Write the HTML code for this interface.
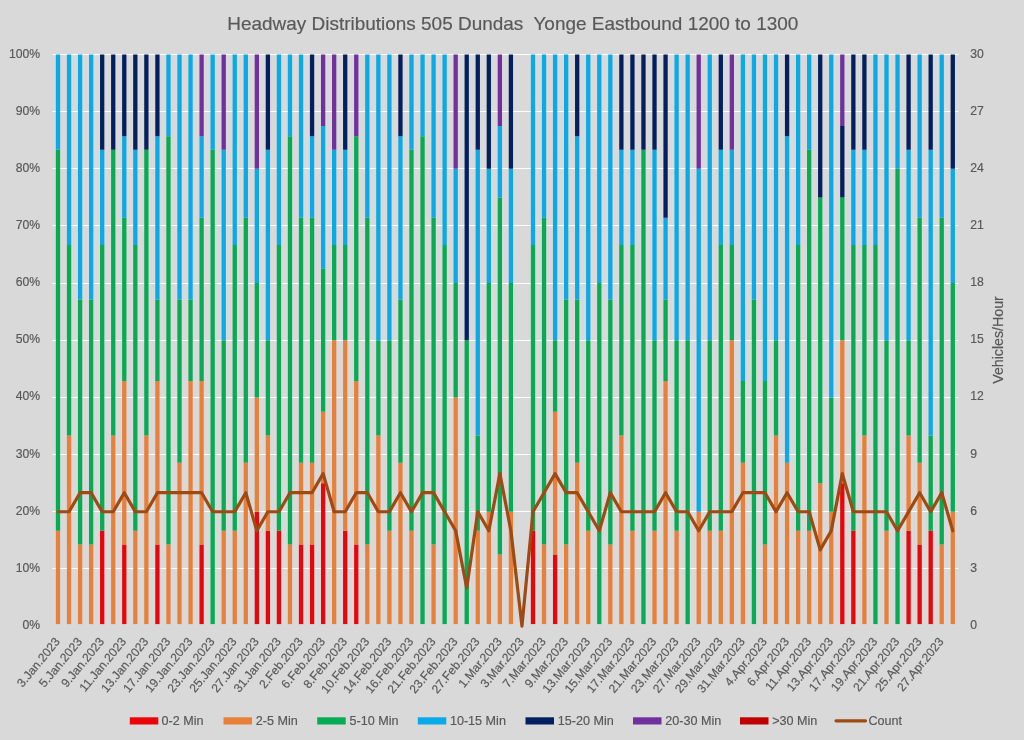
<!DOCTYPE html><html><head><meta charset="utf-8"><style>html,body{margin:0;padding:0;background:#D9D9D9;}svg{display:block}text{font-family:"Liberation Sans",sans-serif;fill:#595959;stroke:#595959;stroke-width:0.18}svg{will-change:transform}</style></head><body>
<svg width="1024" height="740" viewBox="0 0 1024 740">
<rect width="1024" height="740" fill="#D9D9D9"/>
<path d="M52.48 568.5H958.3M52.48 511.5H958.3M52.48 454.5H958.3M52.48 397.5H958.3M52.48 340.5H958.3M52.48 283.5H958.3M52.48 225.5H958.3M52.48 168.5H958.3M52.48 111.5H958.3M52.48 54.5H958.3" stroke="#FFFFFF" stroke-width="1" fill="none"/>
<path d="M100.04 626.05h4.3V530.79h-4.3zM122.13 626.05h4.3V544.4h-4.3zM155.27 626.05h4.3V544.4h-4.3zM199.46 626.05h4.3V544.4h-4.3zM254.69 626.05h4.3V511.74h-4.3zM265.74 626.05h4.3V530.79h-4.3zM276.78 626.05h4.3V530.79h-4.3zM298.88 626.05h4.3V544.4h-4.3zM309.92 626.05h4.3V544.4h-4.3zM320.97 626.05h4.3V483.16h-4.3zM343.06 626.05h4.3V530.79h-4.3zM354.11 626.05h4.3V544.4h-4.3zM530.86 626.05h4.3V530.79h-4.3zM552.95 626.05h4.3V554.61h-4.3zM840.16 626.05h4.3V483.16h-4.3zM851.21 626.05h4.3V530.79h-4.3zM906.44 626.05h4.3V530.79h-4.3zM917.49 626.05h4.3V544.4h-4.3zM928.53 626.05h4.3V530.79h-4.3z" fill="#EA0508"/>
<path d="M55.85 626.05h4.3V530.79h-4.3zM66.9 626.05h4.3V435.53h-4.3zM77.95 626.05h4.3V544.4h-4.3zM88.99 626.05h4.3V544.4h-4.3zM111.09 626.05h4.3V435.53h-4.3zM122.13 544.4h4.3V381.1h-4.3zM133.18 626.05h4.3V530.79h-4.3zM144.23 626.05h4.3V435.53h-4.3zM155.27 544.4h4.3V381.1h-4.3zM166.32 626.05h4.3V544.4h-4.3zM177.37 626.05h4.3V462.75h-4.3zM188.41 626.05h4.3V381.1h-4.3zM199.46 544.4h4.3V381.1h-4.3zM221.55 626.05h4.3V530.79h-4.3zM232.6 626.05h4.3V530.79h-4.3zM243.65 626.05h4.3V462.75h-4.3zM254.69 511.74h4.3V397.43h-4.3zM265.74 530.79h4.3V435.53h-4.3zM287.83 626.05h4.3V544.4h-4.3zM298.88 544.4h4.3V462.75h-4.3zM309.92 544.4h4.3V462.75h-4.3zM320.97 483.16h4.3V411.72h-4.3zM332.02 626.05h4.3V340.27h-4.3zM343.06 530.79h4.3V340.27h-4.3zM354.11 544.4h4.3V381.1h-4.3zM365.16 626.05h4.3V544.4h-4.3zM376.2 626.05h4.3V435.53h-4.3zM387.25 626.05h4.3V530.79h-4.3zM398.3 626.05h4.3V462.75h-4.3zM409.34 626.05h4.3V530.79h-4.3zM431.44 626.05h4.3V544.4h-4.3zM453.53 626.05h4.3V397.43h-4.3zM475.62 626.05h4.3V530.79h-4.3zM486.67 626.05h4.3V511.74h-4.3zM497.72 626.05h4.3V554.61h-4.3zM508.76 626.05h4.3V511.74h-4.3zM541.9 626.05h4.3V544.4h-4.3zM552.95 554.61h4.3V411.72h-4.3zM564 626.05h4.3V544.4h-4.3zM575.04 626.05h4.3V462.75h-4.3zM586.09 626.05h4.3V530.79h-4.3zM608.18 626.05h4.3V544.4h-4.3zM619.23 626.05h4.3V435.53h-4.3zM630.28 626.05h4.3V530.79h-4.3zM652.37 626.05h4.3V530.79h-4.3zM663.42 626.05h4.3V381.1h-4.3zM674.46 626.05h4.3V530.79h-4.3zM696.56 626.05h4.3V511.74h-4.3zM707.6 626.05h4.3V530.79h-4.3zM718.65 626.05h4.3V530.79h-4.3zM729.69 626.05h4.3V340.27h-4.3zM740.74 626.05h4.3V462.75h-4.3zM762.83 626.05h4.3V544.4h-4.3zM773.88 626.05h4.3V435.53h-4.3zM784.93 626.05h4.3V462.75h-4.3zM795.97 626.05h4.3V530.79h-4.3zM807.02 626.05h4.3V530.79h-4.3zM818.07 626.05h4.3V483.16h-4.3zM829.11 626.05h4.3V511.74h-4.3zM840.16 483.16h4.3V340.27h-4.3zM862.25 626.05h4.3V435.53h-4.3zM884.35 626.05h4.3V530.79h-4.3zM906.44 530.79h4.3V435.53h-4.3zM917.49 544.4h4.3V462.75h-4.3zM939.58 626.05h4.3V544.4h-4.3zM950.63 626.05h4.3V511.74h-4.3z" fill="#E8803A"/>
<path d="M55.85 530.79h4.3V149.76h-4.3zM66.9 435.53h4.3V245.02h-4.3zM77.95 544.4h4.3V299.45h-4.3zM88.99 544.4h4.3V299.45h-4.3zM100.04 530.79h4.3V245.02h-4.3zM111.09 435.53h4.3V149.76h-4.3zM122.13 381.1h4.3V217.8h-4.3zM133.18 530.79h4.3V245.02h-4.3zM144.23 435.53h4.3V149.76h-4.3zM155.27 381.1h4.3V299.45h-4.3zM166.32 544.4h4.3V136.15h-4.3zM177.37 462.75h4.3V299.45h-4.3zM188.41 381.1h4.3V299.45h-4.3zM199.46 381.1h4.3V217.8h-4.3zM210.51 626.05h4.3V149.76h-4.3zM221.55 530.79h4.3V340.27h-4.3zM232.6 530.79h4.3V245.02h-4.3zM243.65 462.75h4.3V217.8h-4.3zM254.69 397.43h4.3V283.12h-4.3zM265.74 435.53h4.3V340.27h-4.3zM276.78 530.79h4.3V245.02h-4.3zM287.83 544.4h4.3V136.15h-4.3zM298.88 462.75h4.3V217.8h-4.3zM309.92 462.75h4.3V217.8h-4.3zM320.97 411.72h4.3V268.83h-4.3zM332.02 340.27h4.3V245.02h-4.3zM343.06 340.27h4.3V245.02h-4.3zM354.11 381.1h4.3V136.15h-4.3zM365.16 544.4h4.3V217.8h-4.3zM376.2 435.53h4.3V340.27h-4.3zM387.25 530.79h4.3V340.27h-4.3zM398.3 462.75h4.3V299.45h-4.3zM409.34 530.79h4.3V149.76h-4.3zM420.39 626.05h4.3V136.15h-4.3zM431.44 544.4h4.3V217.8h-4.3zM442.48 626.05h4.3V245.02h-4.3zM453.53 397.43h4.3V283.12h-4.3zM464.58 626.05h4.3V340.27h-4.3zM475.62 530.79h4.3V435.53h-4.3zM486.67 511.74h4.3V283.12h-4.3zM497.72 554.61h4.3V197.39h-4.3zM508.76 511.74h4.3V283.12h-4.3zM530.86 530.79h4.3V245.02h-4.3zM541.9 544.4h4.3V217.8h-4.3zM552.95 411.72h4.3V340.27h-4.3zM564 544.4h4.3V299.45h-4.3zM575.04 462.75h4.3V299.45h-4.3zM586.09 530.79h4.3V340.27h-4.3zM597.14 626.05h4.3V283.12h-4.3zM608.18 544.4h4.3V299.45h-4.3zM619.23 435.53h4.3V245.02h-4.3zM630.28 530.79h4.3V245.02h-4.3zM641.32 626.05h4.3V149.76h-4.3zM652.37 530.79h4.3V340.27h-4.3zM663.42 381.1h4.3V299.45h-4.3zM674.46 530.79h4.3V340.27h-4.3zM685.51 626.05h4.3V340.27h-4.3zM707.6 530.79h4.3V340.27h-4.3zM718.65 530.79h4.3V245.02h-4.3zM729.69 340.27h4.3V245.02h-4.3zM740.74 462.75h4.3V381.1h-4.3zM751.79 626.05h4.3V299.45h-4.3zM762.83 544.4h4.3V381.1h-4.3zM773.88 435.53h4.3V340.27h-4.3zM795.97 530.79h4.3V245.02h-4.3zM807.02 530.79h4.3V149.76h-4.3zM818.07 483.16h4.3V197.39h-4.3zM829.11 511.74h4.3V397.43h-4.3zM840.16 340.27h4.3V197.39h-4.3zM851.21 530.79h4.3V245.02h-4.3zM862.25 435.53h4.3V245.02h-4.3zM873.3 626.05h4.3V245.02h-4.3zM884.35 530.79h4.3V340.27h-4.3zM895.39 626.05h4.3V168.81h-4.3zM906.44 435.53h4.3V340.27h-4.3zM917.49 462.75h4.3V217.8h-4.3zM928.53 530.79h4.3V435.53h-4.3zM939.58 544.4h4.3V217.8h-4.3zM950.63 511.74h4.3V283.12h-4.3z" fill="#06AC54"/>
<path d="M55.85 149.76h4.3V54.5h-4.3zM66.9 245.02h4.3V54.5h-4.3zM77.95 299.45h4.3V54.5h-4.3zM88.99 299.45h4.3V54.5h-4.3zM100.04 245.02h4.3V149.76h-4.3zM122.13 217.8h4.3V136.15h-4.3zM133.18 245.02h4.3V149.76h-4.3zM155.27 299.45h4.3V136.15h-4.3zM166.32 136.15h4.3V54.5h-4.3zM177.37 299.45h4.3V54.5h-4.3zM188.41 299.45h4.3V54.5h-4.3zM199.46 217.8h4.3V136.15h-4.3zM210.51 149.76h4.3V54.5h-4.3zM221.55 340.27h4.3V149.76h-4.3zM232.6 245.02h4.3V54.5h-4.3zM243.65 217.8h4.3V54.5h-4.3zM254.69 283.12h4.3V168.81h-4.3zM265.74 340.27h4.3V149.76h-4.3zM276.78 245.02h4.3V54.5h-4.3zM287.83 136.15h4.3V54.5h-4.3zM298.88 217.8h4.3V54.5h-4.3zM309.92 217.8h4.3V136.15h-4.3zM320.97 268.83h4.3V125.94h-4.3zM332.02 245.02h4.3V149.76h-4.3zM343.06 245.02h4.3V149.76h-4.3zM365.16 217.8h4.3V54.5h-4.3zM376.2 340.27h4.3V54.5h-4.3zM387.25 340.27h4.3V54.5h-4.3zM398.3 299.45h4.3V136.15h-4.3zM409.34 149.76h4.3V54.5h-4.3zM420.39 136.15h4.3V54.5h-4.3zM431.44 217.8h4.3V54.5h-4.3zM442.48 245.02h4.3V54.5h-4.3zM453.53 283.12h4.3V168.81h-4.3zM475.62 435.53h4.3V149.76h-4.3zM486.67 283.12h4.3V168.81h-4.3zM497.72 197.39h4.3V125.94h-4.3zM508.76 283.12h4.3V168.81h-4.3zM530.86 245.02h4.3V54.5h-4.3zM541.9 217.8h4.3V54.5h-4.3zM552.95 340.27h4.3V54.5h-4.3zM564 299.45h4.3V54.5h-4.3zM575.04 299.45h4.3V136.15h-4.3zM586.09 340.27h4.3V54.5h-4.3zM597.14 283.12h4.3V54.5h-4.3zM608.18 299.45h4.3V54.5h-4.3zM619.23 245.02h4.3V149.76h-4.3zM630.28 245.02h4.3V149.76h-4.3zM652.37 340.27h4.3V149.76h-4.3zM663.42 299.45h4.3V217.8h-4.3zM674.46 340.27h4.3V54.5h-4.3zM685.51 340.27h4.3V54.5h-4.3zM696.56 511.74h4.3V168.81h-4.3zM707.6 340.27h4.3V54.5h-4.3zM718.65 245.02h4.3V149.76h-4.3zM729.69 245.02h4.3V149.76h-4.3zM740.74 381.1h4.3V54.5h-4.3zM751.79 299.45h4.3V54.5h-4.3zM762.83 381.1h4.3V54.5h-4.3zM773.88 340.27h4.3V54.5h-4.3zM784.93 462.75h4.3V136.15h-4.3zM795.97 245.02h4.3V54.5h-4.3zM807.02 149.76h4.3V54.5h-4.3zM829.11 397.43h4.3V54.5h-4.3zM851.21 245.02h4.3V149.76h-4.3zM862.25 245.02h4.3V149.76h-4.3zM873.3 245.02h4.3V54.5h-4.3zM884.35 340.27h4.3V54.5h-4.3zM895.39 168.81h4.3V54.5h-4.3zM906.44 340.27h4.3V149.76h-4.3zM917.49 217.8h4.3V54.5h-4.3zM928.53 435.53h4.3V149.76h-4.3zM939.58 217.8h4.3V54.5h-4.3zM950.63 283.12h4.3V168.81h-4.3z" fill="#08AAE8"/>
<path d="M100.04 149.76h4.3V54.5h-4.3zM111.09 149.76h4.3V54.5h-4.3zM122.13 136.15h4.3V54.5h-4.3zM133.18 149.76h4.3V54.5h-4.3zM144.23 149.76h4.3V54.5h-4.3zM155.27 136.15h4.3V54.5h-4.3zM265.74 149.76h4.3V54.5h-4.3zM309.92 136.15h4.3V54.5h-4.3zM343.06 149.76h4.3V54.5h-4.3zM398.3 136.15h4.3V54.5h-4.3zM464.58 340.27h4.3V54.5h-4.3zM475.62 149.76h4.3V54.5h-4.3zM486.67 168.81h4.3V54.5h-4.3zM508.76 168.81h4.3V54.5h-4.3zM575.04 136.15h4.3V54.5h-4.3zM619.23 149.76h4.3V54.5h-4.3zM630.28 149.76h4.3V54.5h-4.3zM641.32 149.76h4.3V54.5h-4.3zM652.37 149.76h4.3V54.5h-4.3zM663.42 217.8h4.3V54.5h-4.3zM718.65 149.76h4.3V54.5h-4.3zM784.93 136.15h4.3V54.5h-4.3zM818.07 197.39h4.3V54.5h-4.3zM840.16 197.39h4.3V125.94h-4.3zM851.21 149.76h4.3V54.5h-4.3zM862.25 149.76h4.3V54.5h-4.3zM906.44 149.76h4.3V54.5h-4.3zM928.53 149.76h4.3V54.5h-4.3zM950.63 168.81h4.3V54.5h-4.3z" fill="#02205F"/>
<path d="M199.46 136.15h4.3V54.5h-4.3zM221.55 149.76h4.3V54.5h-4.3zM254.69 168.81h4.3V54.5h-4.3zM320.97 125.94h4.3V54.5h-4.3zM332.02 149.76h4.3V54.5h-4.3zM354.11 136.15h4.3V54.5h-4.3zM453.53 168.81h4.3V54.5h-4.3zM497.72 125.94h4.3V54.5h-4.3zM696.56 168.81h4.3V54.5h-4.3zM729.69 149.76h4.3V54.5h-4.3zM840.16 125.94h4.3V54.5h-4.3z" fill="#7030A0"/>
<rect x="50.48" y="624.1" width="909.82" height="4" fill="#D9D9D9"/>
<polyline points="58,511.74 69.05,511.74 80.1,492.69 91.14,492.69 102.19,511.74 113.24,511.74 124.28,492.69 135.33,511.74 146.38,511.74 157.42,492.69 168.47,492.69 179.52,492.69 190.56,492.69 201.61,492.69 212.66,511.74 223.7,511.74 234.75,511.74 245.8,492.69 256.84,530.79 267.89,511.74 278.93,511.74 289.98,492.69 301.03,492.69 312.07,492.69 323.12,473.64 334.17,511.74 345.21,511.74 356.26,492.69 367.31,492.69 378.35,511.74 389.4,511.74 400.45,492.69 411.49,511.74 422.54,492.69 433.59,492.69 444.63,511.74 455.68,530.79 466.73,587.95 477.77,511.74 488.82,530.79 499.87,473.64 510.91,530.79 521.96,626.05 533.01,511.74 544.05,492.69 555.1,473.64 566.15,492.69 577.19,492.69 588.24,511.74 599.29,530.79 610.33,492.69 621.38,511.74 632.43,511.74 643.47,511.74 654.52,511.74 665.57,492.69 676.61,511.74 687.66,511.74 698.71,530.79 709.75,511.74 720.8,511.74 731.84,511.74 742.89,492.69 753.94,492.69 764.98,492.69 776.03,511.74 787.08,492.69 798.12,511.74 809.17,511.74 820.22,549.84 831.26,530.79 842.31,473.64 853.36,511.74 864.4,511.74 875.45,511.74 886.5,511.74 897.54,530.79 908.59,511.74 919.64,492.69 930.68,511.74 941.73,492.69 952.78,530.79" fill="none" stroke="#9E4A12" stroke-width="3.2" stroke-linejoin="round" stroke-linecap="round"/>
<text x="40.2" y="625.05" font-size="12.2" text-anchor="end" dominant-baseline="central">0%</text>
<text x="40.2" y="567.89" font-size="12.2" text-anchor="end" dominant-baseline="central">10%</text>
<text x="40.2" y="510.74" font-size="12.2" text-anchor="end" dominant-baseline="central">20%</text>
<text x="40.2" y="453.58" font-size="12.2" text-anchor="end" dominant-baseline="central">30%</text>
<text x="40.2" y="396.43" font-size="12.2" text-anchor="end" dominant-baseline="central">40%</text>
<text x="40.2" y="339.27" font-size="12.2" text-anchor="end" dominant-baseline="central">50%</text>
<text x="40.2" y="282.12" font-size="12.2" text-anchor="end" dominant-baseline="central">60%</text>
<text x="40.2" y="224.97" font-size="12.2" text-anchor="end" dominant-baseline="central">70%</text>
<text x="40.2" y="167.81" font-size="12.2" text-anchor="end" dominant-baseline="central">80%</text>
<text x="40.2" y="110.65" font-size="12.2" text-anchor="end" dominant-baseline="central">90%</text>
<text x="40.2" y="53.5" font-size="12.2" text-anchor="end" dominant-baseline="central">100%</text>
<text x="970.3" y="625.05" font-size="12.2" text-anchor="start" dominant-baseline="central">0</text>
<text x="970.3" y="567.89" font-size="12.2" text-anchor="start" dominant-baseline="central">3</text>
<text x="970.3" y="510.74" font-size="12.2" text-anchor="start" dominant-baseline="central">6</text>
<text x="970.3" y="453.58" font-size="12.2" text-anchor="start" dominant-baseline="central">9</text>
<text x="970.3" y="396.43" font-size="12.2" text-anchor="start" dominant-baseline="central">12</text>
<text x="970.3" y="339.27" font-size="12.2" text-anchor="start" dominant-baseline="central">15</text>
<text x="970.3" y="282.12" font-size="12.2" text-anchor="start" dominant-baseline="central">18</text>
<text x="970.3" y="224.97" font-size="12.2" text-anchor="start" dominant-baseline="central">21</text>
<text x="970.3" y="167.81" font-size="12.2" text-anchor="start" dominant-baseline="central">24</text>
<text x="970.3" y="110.65" font-size="12.2" text-anchor="start" dominant-baseline="central">27</text>
<text x="970.3" y="53.5" font-size="12.2" text-anchor="start" dominant-baseline="central">30</text>
<text x="512.8" y="29.6" font-size="19" text-anchor="middle" textLength="571" lengthAdjust="spacingAndGlyphs" xml:space="preserve">Headway Distributions 505 Dundas  Yonge Eastbound 1200 to 1300</text>
<text transform="translate(1002.7 340) rotate(-90)" font-size="14.2" text-anchor="middle">Vehicles/Hour</text>
<text transform="translate(60.6 641.9) rotate(-50.5)" font-size="12.1" text-anchor="end">3.Jan.2023</text>
<text transform="translate(82.7 641.9) rotate(-50.5)" font-size="12.1" text-anchor="end">5.Jan.2023</text>
<text transform="translate(104.79 641.9) rotate(-50.5)" font-size="12.1" text-anchor="end">9.Jan.2023</text>
<text transform="translate(126.88 641.9) rotate(-50.5)" font-size="12.1" text-anchor="end">11.Jan.2023</text>
<text transform="translate(148.98 641.9) rotate(-50.5)" font-size="12.1" text-anchor="end">13.Jan.2023</text>
<text transform="translate(171.07 641.9) rotate(-50.5)" font-size="12.1" text-anchor="end">17.Jan.2023</text>
<text transform="translate(193.16 641.9) rotate(-50.5)" font-size="12.1" text-anchor="end">19.Jan.2023</text>
<text transform="translate(215.26 641.9) rotate(-50.5)" font-size="12.1" text-anchor="end">23.Jan.2023</text>
<text transform="translate(237.35 641.9) rotate(-50.5)" font-size="12.1" text-anchor="end">25.Jan.2023</text>
<text transform="translate(259.44 641.9) rotate(-50.5)" font-size="12.1" text-anchor="end">27.Jan.2023</text>
<text transform="translate(281.53 641.9) rotate(-50.5)" font-size="12.1" text-anchor="end">31.Jan.2023</text>
<text transform="translate(303.63 641.9) rotate(-50.5)" font-size="12.1" text-anchor="end">2.Feb.2023</text>
<text transform="translate(325.72 641.9) rotate(-50.5)" font-size="12.1" text-anchor="end">6.Feb.2023</text>
<text transform="translate(347.81 641.9) rotate(-50.5)" font-size="12.1" text-anchor="end">8.Feb.2023</text>
<text transform="translate(369.91 641.9) rotate(-50.5)" font-size="12.1" text-anchor="end">10.Feb.2023</text>
<text transform="translate(392 641.9) rotate(-50.5)" font-size="12.1" text-anchor="end">14.Feb.2023</text>
<text transform="translate(414.09 641.9) rotate(-50.5)" font-size="12.1" text-anchor="end">16.Feb.2023</text>
<text transform="translate(436.19 641.9) rotate(-50.5)" font-size="12.1" text-anchor="end">21.Feb.2023</text>
<text transform="translate(458.28 641.9) rotate(-50.5)" font-size="12.1" text-anchor="end">23.Feb.2023</text>
<text transform="translate(480.37 641.9) rotate(-50.5)" font-size="12.1" text-anchor="end">27.Feb.2023</text>
<text transform="translate(502.47 641.9) rotate(-50.5)" font-size="12.1" text-anchor="end">1.Mar.2023</text>
<text transform="translate(524.56 641.9) rotate(-50.5)" font-size="12.1" text-anchor="end">3.Mar.2023</text>
<text transform="translate(546.65 641.9) rotate(-50.5)" font-size="12.1" text-anchor="end">7.Mar.2023</text>
<text transform="translate(568.75 641.9) rotate(-50.5)" font-size="12.1" text-anchor="end">9.Mar.2023</text>
<text transform="translate(590.84 641.9) rotate(-50.5)" font-size="12.1" text-anchor="end">13.Mar.2023</text>
<text transform="translate(612.93 641.9) rotate(-50.5)" font-size="12.1" text-anchor="end">15.Mar.2023</text>
<text transform="translate(635.03 641.9) rotate(-50.5)" font-size="12.1" text-anchor="end">17.Mar.2023</text>
<text transform="translate(657.12 641.9) rotate(-50.5)" font-size="12.1" text-anchor="end">21.Mar.2023</text>
<text transform="translate(679.21 641.9) rotate(-50.5)" font-size="12.1" text-anchor="end">23.Mar.2023</text>
<text transform="translate(701.31 641.9) rotate(-50.5)" font-size="12.1" text-anchor="end">27.Mar.2023</text>
<text transform="translate(723.4 641.9) rotate(-50.5)" font-size="12.1" text-anchor="end">29.Mar.2023</text>
<text transform="translate(745.49 641.9) rotate(-50.5)" font-size="12.1" text-anchor="end">31.Mar.2023</text>
<text transform="translate(767.58 641.9) rotate(-50.5)" font-size="12.1" text-anchor="end">4.Apr.2023</text>
<text transform="translate(789.68 641.9) rotate(-50.5)" font-size="12.1" text-anchor="end">6.Apr.2023</text>
<text transform="translate(811.77 641.9) rotate(-50.5)" font-size="12.1" text-anchor="end">11.Apr.2023</text>
<text transform="translate(833.86 641.9) rotate(-50.5)" font-size="12.1" text-anchor="end">13.Apr.2023</text>
<text transform="translate(855.96 641.9) rotate(-50.5)" font-size="12.1" text-anchor="end">17.Apr.2023</text>
<text transform="translate(878.05 641.9) rotate(-50.5)" font-size="12.1" text-anchor="end">19.Apr.2023</text>
<text transform="translate(900.14 641.9) rotate(-50.5)" font-size="12.1" text-anchor="end">21.Apr.2023</text>
<text transform="translate(922.24 641.9) rotate(-50.5)" font-size="12.1" text-anchor="end">25.Apr.2023</text>
<text transform="translate(944.33 641.9) rotate(-50.5)" font-size="12.1" text-anchor="end">27.Apr.2023</text>
<rect x="129.8" y="717.3" width="28.5" height="7.2" fill="#EA0508"/>
<text x="161.6" y="720.8" font-size="12.6" dominant-baseline="central">0-2 Min</text>
<rect x="223.5" y="717.3" width="28.5" height="7.2" fill="#E8803A"/>
<text x="255.7" y="720.8" font-size="12.6" dominant-baseline="central">2-5 Min</text>
<rect x="317.2" y="717.3" width="28.5" height="7.2" fill="#06AC54"/>
<text x="349.5" y="720.8" font-size="12.6" dominant-baseline="central">5-10 Min</text>
<rect x="417.8" y="717.3" width="28.5" height="7.2" fill="#08AAE8"/>
<text x="449.9" y="720.8" font-size="12.6" dominant-baseline="central">10-15 Min</text>
<rect x="525.5" y="717.3" width="28.5" height="7.2" fill="#02205F"/>
<text x="557.7" y="720.8" font-size="12.6" dominant-baseline="central">15-20 Min</text>
<rect x="633" y="717.3" width="28.5" height="7.2" fill="#7030A0"/>
<text x="665.3" y="720.8" font-size="12.6" dominant-baseline="central">20-30 Min</text>
<rect x="740" y="717.3" width="28.5" height="7.2" fill="#C00000"/>
<text x="772.2" y="720.8" font-size="12.6" dominant-baseline="central">&gt;30 Min</text>
<line x1="836" y1="720.8" x2="865.5" y2="720.8" stroke="#9E4A12" stroke-width="3.2" stroke-linecap="round"/>
<text x="868.4" y="720.8" font-size="12.6" dominant-baseline="central">Count</text>
</svg></body></html>
